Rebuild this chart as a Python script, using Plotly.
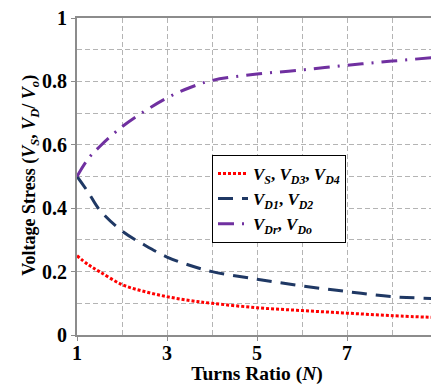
import plotly.graph_objects as go

N = [1, 1.25, 1.5, 2, 2.5, 3, 3.5, 4, 5, 6, 7, 8, 9]
vs = [0.25, 0.222, 0.200, 0.159, 0.137, 0.121, 0.109, 0.100, 0.086, 0.077, 0.069, 0.061, 0.055]
vd1 = [0.5, 0.45, 0.395, 0.328, 0.284, 0.246, 0.22, 0.200, 0.176, 0.155, 0.137, 0.121, 0.115]
vdr = [0.5, 0.556, 0.594, 0.657, 0.706, 0.748, 0.780, 0.803, 0.823, 0.836, 0.851, 0.864, 0.876]

x_ticks = [1, 3, 5, 7, 9]
y_ticks = [0, 0.2, 0.4, 0.6, 0.8, 1]
y_ticktext = ["0", "0.2", "0.4", "0.6", "0.8", "1"]

names = [
    "<b><i>V<sub>S</sub></i>, <i>V<sub>D3</sub></i>, <i>V<sub>D4</sub></i></b>",
    "<b><i>V<sub>D1</sub></i>, <i>V<sub>D2</sub></i></b>",
    "<b><i>V<sub>Dr</sub></i>, <i>V<sub>Do</sub></i></b>",
]

FONT = "Liberation Serif, Times New Roman, serif"

fig = go.Figure()
fig.add_trace(go.Scatter(x=N, y=vs, mode="lines", name=names[0], line_shape="spline",
                         line=dict(color="#ff0000", width=3, dash="3px,2px")))
fig.add_trace(go.Scatter(x=N, y=vd1, mode="lines", name=names[1], line_shape="spline",
                         line=dict(color="#1f3864", width=3, dash="15px,9px")))
fig.add_trace(go.Scatter(x=N, y=vdr, mode="lines", name=names[2], line_shape="spline",
                         line=dict(color="#7030a0", width=3, dash="16px,8px,2px,8px")))

gridstyle = dict(showgrid=True, gridcolor="#b4b4b4", gridwidth=1, griddash="5px,3px")

# page body has an 8px margin, so the figure is sized/offset to compensate
fig.update_layout(
    width=431, height=377,
    margin=dict(l=69, r=2, t=10, b=50),
    plot_bgcolor="white", paper_bgcolor="white",
    font=dict(family=FONT, color="black"),
    showlegend=True,
    legend=dict(x=0.375, y=0.568, xanchor="left", yanchor="top",
                bgcolor="white", bordercolor="black", borderwidth=1,
                font=dict(family=FONT, size=17, color="black"),
                tracegroupgap=0),
    xaxis=dict(range=[1, 9], tickvals=x_ticks, automargin=False, **gridstyle,
               minor=dict(dtick=1, **gridstyle),
               showline=True, linecolor="#8c8c8c", linewidth=2, mirror=True,
               ticks="outside", ticklen=4, tickcolor="#8c8c8c",
               ticklabeloverflow="allow", ticklabelstandoff=-5,
               tickfont=dict(family=FONT, size=20, weight="bold", color="black"),
               title=dict(text="<b>Turns Ratio (<i>N</i>)</b>", standoff=7,
                          font=dict(family=FONT, size=19.5, color="black")),
               zeroline=False),
    yaxis=dict(range=[0, 1], tickvals=y_ticks, ticktext=y_ticktext, automargin=False,
               **gridstyle,
               minor=dict(dtick=0.1, **gridstyle),
               showline=True, linecolor="#8c8c8c", linewidth=2, mirror=True,
               ticks="outside", ticklen=4, tickcolor="#8c8c8c",
               ticklabeloverflow="allow",
               tickfont=dict(family=FONT, size=20, weight="bold", color="black"),
               zeroline=False),
    annotations=[dict(
        text="<b>Voltage Stress (<i>V<sub>S</sub></i>, <i>V<sub>D</sub></i>/ <i>V<sub>o</sub></i>)</b>",
        xref="paper", yref="paper", x=-0.128, y=0.505, xanchor="center", yanchor="middle",
        textangle=-90, showarrow=False, font=dict(family=FONT, size=18, color="black"))],
)

fig.write_html("out.html")
